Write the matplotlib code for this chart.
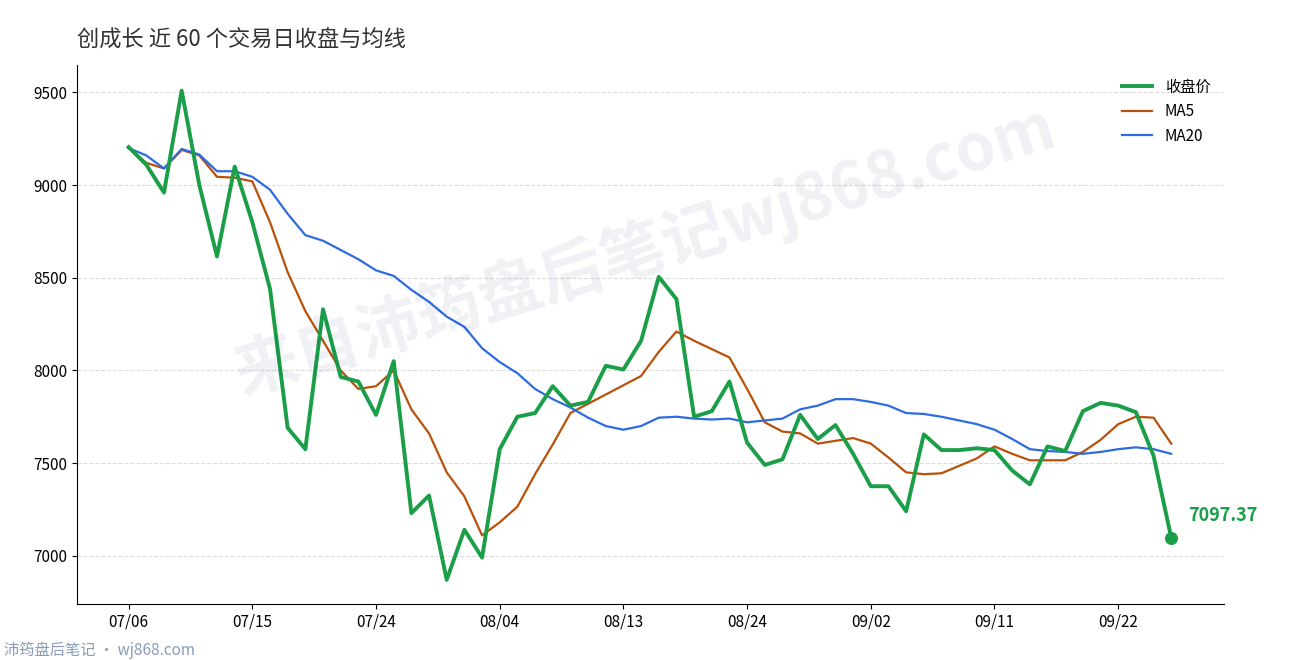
import matplotlib
matplotlib.use("Agg")
import matplotlib.pyplot as plt
import pandas as pd

plt.rcParams['font.family'] = ['Noto Sans CJK SC', 'DejaVu Sans']

# 60 trading days, 2020-07-06 .. 2020-09-25
dates = pd.bdate_range("2020-07-06", "2020-09-25")
close = [9205, 9110, 8960, 9510, 9000, 8615, 9100, 8800, 8440, 7690,
         7575, 8330, 7965, 7940, 7760, 8050, 7230, 7325, 6870, 7140,
         6990, 7575, 7750, 7770, 7915, 7810, 7830, 8025, 8005, 8160,
         8505, 8385, 7750, 7780, 7940, 7610, 7490, 7520, 7760, 7630,
         7705, 7550, 7375, 7375, 7240, 7655, 7570, 7570, 7580, 7570,
         7460, 7385, 7590, 7565, 7780, 7825, 7810, 7775, 7540, 7097.37]
ma5 = [9200, 9120, 9090, 9190, 9160, 9045, 9040, 9020, 8800, 8530,
       8320, 8160, 8000, 7900, 7915, 8000, 7790, 7660, 7450, 7320,
       7110, 7180, 7265, 7440, 7600, 7770, 7820, 7870, 7920, 7970,
       8100, 8210, 8160, 8115, 8070, 7900, 7720, 7670, 7660, 7605,
       7620, 7635, 7605, 7530, 7450, 7440, 7445, 7485, 7525, 7590,
       7550, 7515, 7515, 7515, 7560, 7625, 7710, 7750, 7745, 7605]
ma20 = [9200, 9160, 9090, 9195, 9165, 9075, 9075, 9045, 8975, 8845,
        8730, 8700, 8650, 8600, 8540, 8510, 8435, 8370, 8290, 8235,
        8120, 8045, 7985, 7900, 7845, 7800, 7745, 7700, 7680, 7700,
        7745, 7750, 7740, 7735, 7740, 7720, 7730, 7740, 7790, 7810,
        7845, 7845, 7830, 7810, 7770, 7765, 7750, 7730, 7710, 7680,
        7630, 7575, 7565, 7560, 7550, 7560, 7575, 7585, 7575, 7550]

green = "#1a9e47"
fig = plt.figure(figsize=(12.9, 6.6), dpi=100)
ax = fig.add_axes([0.06, 0.085, 0.889, 0.817])
x = list(range(len(close)))
ax.plot(x, close, color=green, lw=2.8, label="收盘价", zorder=4)
ax.plot(x, ma5, color="#b8510a", lw=1.6, label="MA5", zorder=3)
ax.plot(x, ma20, color="#2f6be0", lw=1.6, label="MA20", zorder=3)
ax.scatter([x[-1]], [close[-1]], s=70, color=green, zorder=5)
ax.annotate(f"{close[-1]:.2f}", (x[-1], close[-1]), xytext=(12, 12),
            textcoords="offset points", color=green, fontsize=13, fontweight="bold")

ticks = list(range(0, 60, 7))
ax.set_xticks(ticks)
ax.set_xticklabels([dates[i].strftime("%m/%d") for i in ticks], fontsize=11)
ax.set_yticks([7000, 7500, 8000, 8500, 9000, 9500])
ax.tick_params(axis="y", labelsize=11)
ax.set_xlim(-2.9, 62)
ax.set_ylim(6740, 9650)
ax.grid(axis="y", ls="--", color="#dddddd", lw=0.8)
for s in ["top", "right"]:
    ax.spines[s].set_visible(False)
ax.legend(loc="upper right", frameon=False, fontsize=11)

fig.text(0.06, 0.93, "创成长 近 60 个交易日收盘与均线", fontsize=16, color="#333333")
fig.text(0.5, 0.62, "来自沛筠盘后笔记wj868.com", fontsize=46, color="#1f2d5a", alpha=0.07,
         rotation=17, ha="center", va="center", fontweight="bold")
fig.text(0.003, 0.008, "沛筠盘后笔记 · wj868.com", fontsize=11, color="#8a9bb8")
fig.savefig("out.png")
